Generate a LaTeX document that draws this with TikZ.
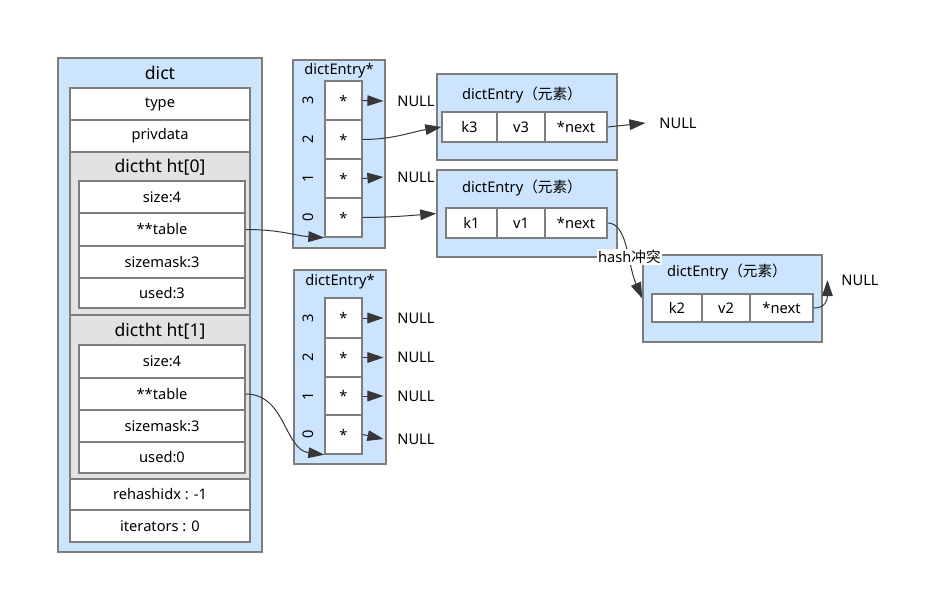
\documentclass[tikz,border=0pt]{standalone}
\usepackage{fontspec}
\setmainfont{Noto Sans}
\newfontfamily\cjk{Noto Sans CJK SC}
\usetikzlibrary{arrows.meta}
\definecolor{boxblue}{RGB}{204,228,253}
\definecolor{htgray}{RGB}{226,226,226}
\definecolor{edgegray}{RGB}{125,125,125}
\definecolor{linegray}{RGB}{55,55,55}

\begin{document}
\begin{tikzpicture}[x=0.3mm, y=-0.3mm, >={Triangle[length=4.8mm,width=3.2mm]},
  font=\fontsize{12.5}{15}\selectfont,
  wh/.style 2 args={minimum width=#1*0.3mm, minimum height=#2*0.3mm},
  container/.style={draw=edgegray, line width=0.45mm, fill=boxblue, rectangle, inner sep=0pt},
  htbox/.style={draw=edgegray, line width=0.45mm, fill=htgray, rectangle, inner sep=0pt},
  field/.style={draw=edgegray, line width=0.4mm, fill=white, rectangle, inner sep=0pt},
  heading/.style={font=\fontsize{15}{18}\selectfont, inner sep=0pt},
  index/.style={rotate=90, inner sep=0pt},
  nullnode/.style={inner sep=0pt, outer sep=14*0.3mm},
  link/.style={draw=linegray, line width=0.3mm}]
\useasboundingbox (0,0) rectangle (930,591);

% dict structure
\node[container, wh={204}{494}] (dict) at (160,305) {};
\node[heading] (dictname) at (160,73) {dict};
\node[field, wh={180}{32}] (type) at (160,104) {type};
\node[field, wh={180}{32}] (priv) at (160,136) {privdata};

\node[htbox, wh={180}{163}] (ht0) at (160,233.5) {};
\node[heading] (ht0name) at (160,167) {dictht ht[0]};
\node[field, wh={166}{32}] (size0) at (162,197) {size:4};
\node[field, wh={166}{33}] (table0) at (162,229.5) {**table};
\node[field, wh={166}{32}] (mask0) at (162,262) {sizemask:3};
\node[field, wh={166}{30}] (used0) at (162,293) {used:3};

\node[htbox, wh={180}{164}] (ht1) at (160,397) {};
\node[heading] (ht1name) at (160,331) {dictht ht[1]};
\node[field, wh={166}{33}] (size1) at (162,361.5) {size:4};
\node[field, wh={166}{32}] (table1) at (162,394) {**table};
\node[field, wh={166}{32}] (mask1) at (162,426) {sizemask:3};
\node[field, wh={166}{31}] (used1) at (162,457.5) {used:0};

\node[field, wh={180}{31}] (rehash) at (160,494.5) {rehashidx : -1};
\node[field, wh={180}{32}] (iter) at (160,526) {iterators : 0};

% bucket array of ht[0]
\node[container, wh={92}{188}] (arr0) at (339,154) {};
\node[inner sep=0pt] (arr0name) at (339,71) {dictEntry*};
\node[field, wh={37}{39}] (c03) at (343.5,100.5) {*};
\node[field, wh={37}{39}] (c02) at (343.5,139.5) {*};
\node[field, wh={37}{39}] (c01) at (343.5,178.5) {*};
\node[field, wh={37}{39}] (c00) at (343.5,217.5) {*};
\node[index] (i03) at (308,100.5) {3};
\node[index] (i02) at (308,139.5) {2};
\node[index] (i01) at (308,178.5) {1};
\node[index] (i00) at (308,217.5) {0};
\node[nullnode] (n03) at (416,101) {NULL};
\node[nullnode] (n01) at (416,177) {NULL};

% bucket array of ht[1]
\node[container, wh={92}{194}] (arr1) at (340,367) {};
\node[inner sep=0pt] (arr1name) at (340,282) {dictEntry*};
\node[field, wh={37}{40}] (c13) at (343.5,318) {*};
\node[field, wh={37}{39}] (c12) at (343.5,357.5) {*};
\node[field, wh={37}{38}] (c11) at (343.5,396) {*};
\node[field, wh={37}{39}] (c10) at (343.5,434.5) {*};
\node[index] (i13) at (308,318) {3};
\node[index] (i12) at (308,357.5) {2};
\node[index] (i11) at (308,396) {1};
\node[index] (i10) at (308,434.5) {0};
\node[nullnode] (n13) at (416,318) {NULL};
\node[nullnode] (n12) at (416,357.5) {NULL};
\node[nullnode] (n11) at (416,396) {NULL};
\node[nullnode] (n10) at (416,439) {NULL};

% entries
\node[container, wh={180}{86}] (e3) at (527,117) {};
\node[inner sep=0pt] (e3name) at (522,95) {dictEntry{\cjk（元素）}};
\node[field, wh={55}{30}] (k3) at (469.5,127) {k3};
\node[field, wh={48}{30}] (v3) at (521,127) {v3};
\node[field, wh={62}{30}] (next3) at (576,127) {*next};
\node[nullnode] (null3) at (678,123) {NULL};

\node[container, wh={180}{87}] (e1) at (527,213.5) {};
\node[inner sep=0pt] (e1name) at (522,188) {dictEntry{\cjk（元素）}};
\node[field, wh={51}{30}] (k1) at (471.5,223) {k1};
\node[field, wh={48}{30}] (v1) at (521,223) {v1};
\node[field, wh={62}{30}] (next1) at (576,223) {*next};

\node[container, wh={179}{87}] (e2) at (732.5,298.5) {};
\node[inner sep=0pt] (e2name) at (727,272) {dictEntry{\cjk（元素）}};
\node[field, wh={50}{28}] (k2) at (677,308) {k2};
\node[field, wh={48}{28}] (v2) at (726,308) {v2};
\node[field, wh={63}{28}] (next2) at (781.5,308) {*next};
\node[nullnode] (null2) at (860,280) {NULL};

% pointers
\draw[->, link] (table0.east) .. controls +(35,0) and +(-30,-2) .. (c00.south west);
\draw[->, link] (table1.east) .. controls +(40,0) and +(-40,-5) .. (c10.south west);
\draw[->, link] (c03.east) -- (n03.west);
\draw[->, link] (c01.east) -- (n01.west);
\draw[->, link] (c02.east) .. controls +(30,0) and +(-30,5) .. (k3.west);
\draw[->, link] (c00.east) .. controls +(25,0) and +(-25,2) .. (e1.west);
\draw[->, link] (c13.east) -- (n13.west);
\draw[->, link] (c12.east) -- (n12.west);
\draw[->, link] (c11.east) -- (n11.west);
\draw[->, link] (c10.east) -- (n10.west);
\draw[->, link] (next3.east) -- (null3.west);
\draw[->, link] (next1.east) .. controls +(20,0) and +(-15,-35) .. node[pos=0.6, fill=white, inner sep=1pt] (conflict) {hash{\cjk 冲突}} (e2.west);
\draw[->, link] (next2.east) .. controls +(12,0) and +(0,20) .. (null2.west);
\end{tikzpicture}
\end{document}
